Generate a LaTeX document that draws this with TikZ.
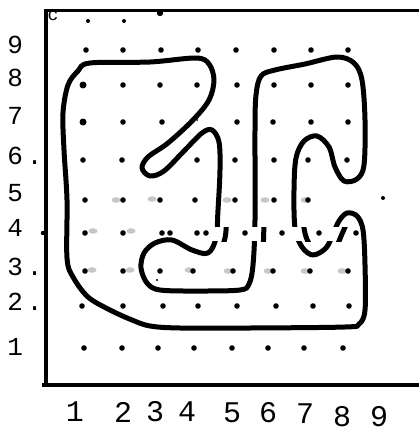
\documentclass[tikz,border=0pt]{standalone}
\usepackage{fontspec}
\setmonofont{Liberation Mono}
\usetikzlibrary{calc}

\begin{document}
\begin{tikzpicture}[x=0.5pt,y=-0.5pt,
  curve/.style={line width=2.5pt, line join=round},
  frame/.style={line width=2pt},
  smudge/.style={fill=black!22},
  rowlab/.style={font=\ttfamily\fontsize{13}{13}\selectfont, anchor=west, inner sep=0pt},
  collab/.style={font=\ttfamily\fontsize{15}{15}\selectfont, inner sep=0pt}]
\useasboundingbox (0,0) rectangle (419,433);
\def\dotr{2.8}
\def\loopline{plot[smooth cycle, tension=0.55] coordinates {
  (90,63) (150,62) (196,58) (209,64) (214,80) (209,100) (193,120) (168,143)
  (148,157) (142,168) (150,176) (164,171) (184,151) (202,133) (212,130)
  (219,142) (220,170) (218,210) (216,238) (208,253) (192,250) (172,240)
  (155,243) (144,253) (141,268) (147,283) (160,290) (200,291) (240,290)
  (249,284) (253,265) (255,220) (255,130) (256,95) (261,76) (275,70)
  (305,64) (337,57) (354,63) (362,80) (365,120) (364,165) (357,179)
  (344,181) (335,167) (329,147) (317,136) (304,141) (296,158) (294,190)
  (295,228) (302,247) (313,255) (326,248) (333,234) (339,221) (347,213)
  (357,216) (363,230) (365,265) (365,310) (359,324) (345,327) (250,328)
  (180,328) (150,326) (132,320) (110,310) (88,297) (73,277) (67,258)
  (67,200) (64,150) (63,113) (68,85) (78,71)}}

\coordinate (TL) at (46,11);
\coordinate (BL) at (46,385);
\coordinate (TR) at (419,11);
\coordinate (BR) at (419,385);

\draw[line width=1.5pt] ($(TL)+(-2,0)$) -- (TR);
\draw[frame] ($(TL)+(0,-1)$) -- ($(BL)+(0,1)$);
\draw[frame] ($(BL)+(-4,0)$) -- (BR);

\foreach \x/\y in {116/200,152/199,227/200,265/200,305/200,
                   93/231,131/231,
                   92/270,130/270,189/270,228/271,268/271,305/271,342/271}
  \fill[smudge] (\x,\y) ellipse (4.5 and 2.8);

\foreach \y/\xs in {50/{86,123,161,198,236,274,311,348},
                    85/{83,123,160,197,237,274,311,348},
                    122/{83,123,162,237,273,311,348},
                    160/{83,122,197,235,274,308,347},
                    200/{85,123,160,195,235,274,308},
                    233/{85,123,162,170,197,236,273,310,347},
                    271/{85,123,160,193,233,273,310,348},
                    306/{82,123,163,198,237,276,313,349},
                    348/{84,122,158,194,232,268,304,343}}
  \foreach \x in \xs
    \fill (\x,\y) circle (\dotr);

\fill (88,21) circle (2);
\fill (124,21) circle (2);
\fill (160,13) circle (3.2);
\fill (197,120) circle (1);
\fill (157,280) circle (1.2);
\fill (383,198) circle (2);
\fill (43,233) circle (2.2);
\fill (83,85) circle (3.5);
\fill (83,122) circle (3.5);

\draw[curve] \loopline;

\begin{scope}
  \clip (200,227) rectangle (360,241);
  \fill[white] (200,227) rectangle (360,241);
  \begin{scope}[shift={(9,0)}]
    \draw[curve] \loopline;
    \foreach \x in {197,236,273,310,347}
      \fill (\x,233) circle (\dotr);
  \end{scope}
\end{scope}

\node[font=\ttfamily\fontsize{9}{9}\selectfont, inner sep=0pt] (corner) at (53,16) {c};

\node[rowlab] (r9) at (7,45) {9};
\node[rowlab] (r8) at (7,78) {8};
\node[rowlab] (r7) at (7,116) {7};
\node[rowlab] (r6) at (7,156) {6\kern2pt.};
\node[rowlab] (r5) at (7,193) {5};
\node[rowlab] (r4) at (7,228) {4};
\node[rowlab] (r3) at (7,267) {3\kern2pt.};
\node[rowlab] (r2) at (7,302) {2\kern2pt.};
\node[rowlab] (r1) at (7,347) {1};

\node[collab] (c1) at (75,412) {1};
\node[collab] (c2) at (123,412) {2};
\node[collab] (c3) at (155,412) {3};
\node[collab] (c4) at (187,412) {4};
\node[collab] (c5) at (232,413) {5};
\node[collab] (c6) at (268,413) {6};
\node[collab] (c7) at (305,414) {7};
\node[collab] (c8) at (342,417) {8};
\node[collab] (c9) at (379,417) {9};
\end{tikzpicture}
\end{document}
